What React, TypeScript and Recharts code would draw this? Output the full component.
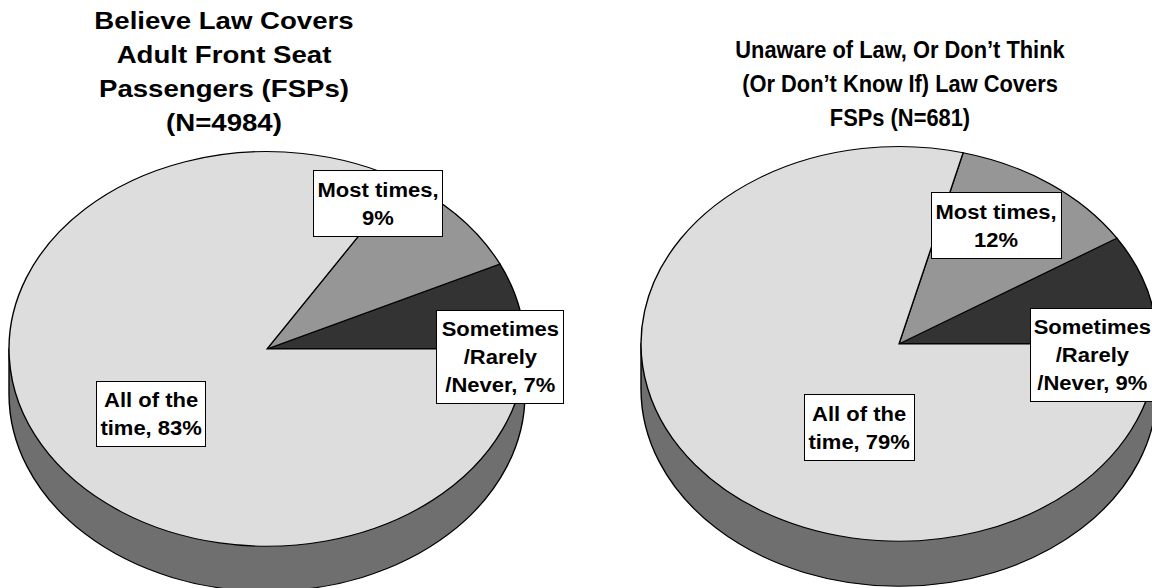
import React from 'react'
import { PieChart, Pie, Cell } from 'recharts'

// slice order follows Excel: starts at 3 o'clock and runs counter-clockwise
const SLICE_NAMES = ['Sometimes/Rarely/Never', 'Most times', 'All of the time']
const LEFT_VALUES = [7, 9, 83]
const RIGHT_VALUES = [9, 12, 79]

const LEFT_TITLE = ['Believe Law Covers', 'Adult Front Seat', 'Passengers (FSPs)', '(N=4984)']
const RIGHT_TITLE = ['Unaware of Law, Or Don\u2019t Think', '(Or Don\u2019t Know If) Law Covers', 'FSPs (N=681)']

// {v} is replaced by the slice value
const LABEL_LINES = [
  ['Sometimes', '/Rarely', '/Never, {v}%'],
  ['Most times,', '{v}%'],
  ['All of the', 'time, {v}%'],
]

const COLORS = ['#333333', '#969696', '#dddddd']
const SIDE_COLOR = '#6f6f6f'

// disc geometry (before the vertical squash)
const R = 258
const K = 0.765 // tilt: ry / rx
const DEPTH = 45 / K
const W = 2 * R + 4
const H = Math.ceil(2 * R + DEPTH + 6)
const PCX = W / 2
const PCY = R + 2

// label boxes, screen pixels
const LEFT_BOXES = [
  { x: 436, y: 310, w: 128, h: 94 },
  { x: 313, y: 170, w: 130, h: 67 },
  { x: 96, y: 381, w: 110, h: 66 },
]
const RIGHT_BOXES = [
  { x: 1030, y: 308, w: 124, h: 94 },
  { x: 931, y: 192, w: 131, h: 67 },
  { x: 804, y: 394, w: 111, h: 67 },
]

function SideWall() {
  const d = `M ${PCX - R} ${PCY} L ${PCX - R} ${PCY + DEPTH} A ${R} ${R} 0 0 0 ${PCX + R} ${PCY + DEPTH} L ${PCX + R} ${PCY} Z`
  return <path d={d} fill={SIDE_COLOR} stroke="#000" strokeWidth={1.4} />
}

function Pie3D({ values, cx, cy }: { values: number[]; cx: number; cy: number }) {
  const data = SLICE_NAMES.map((name, i) => ({ name, value: values[i] }))
  return (
    <div
      style={{
        position: 'absolute',
        left: cx - PCX,
        top: cy - PCY * K,
        width: W,
        height: H,
        transform: `scaleY(${K})`,
        transformOrigin: 'top left',
      }}
    >
      <PieChart width={W} height={H} margin={{ top: 0, right: 0, bottom: 0, left: 0 }}>
        <SideWall />
        <Pie
          data={data}
          dataKey="value"
          nameKey="name"
          cx={PCX}
          cy={PCY}
          outerRadius={R}
          startAngle={0}
          endAngle={360}
          stroke="#000"
          strokeWidth={1.4}
          isAnimationActive={false}
        >
          {data.map((entry, i) => (
            <Cell key={`cell-${i}`} fill={COLORS[i]} />
          ))}
        </Pie>
      </PieChart>
    </div>
  )
}

function Labels({ values, boxes }: { values: number[]; boxes: { x: number; y: number; w: number; h: number }[] }) {
  return (
    <>
      {boxes.map((b, i) => (
        <div
          key={i}
          style={{
            position: 'absolute',
            left: b.x,
            top: b.y,
            width: b.w,
            height: b.h,
            boxSizing: 'border-box',
            border: '1px solid #000',
            background: '#fff',
            display: 'flex',
            alignItems: 'center',
            justifyContent: 'center',
          }}
        >
          <div
            style={{
              fontSize: 20,
              lineHeight: '28px',
              fontWeight: 'bold',
              textAlign: 'center',
              whiteSpace: 'nowrap',
              transform: 'scaleX(1.1)',
            }}
          >
            {LABEL_LINES[i].map((line, j) => (
              <div key={j}>{line.replace('{v}', String(values[i]))}</div>
            ))}
          </div>
        </div>
      ))}
    </>
  )
}

function Title({ lines, cx, top, size, stretch }: { lines: string[]; cx: number; top: number; size: number; stretch: number }) {
  return (
    <div
      style={{
        position: 'absolute',
        left: cx - 250,
        top,
        width: 500,
        textAlign: 'center',
        fontSize: size,
        lineHeight: '34px',
        fontWeight: 'bold',
        transform: `scaleX(${stretch})`,
        whiteSpace: 'nowrap',
      }}
    >
      {lines.map((l, i) => (
        <div key={i}>{l}</div>
      ))}
    </div>
  )
}

export default function App() {
  return (
    <div
      style={{
        position: 'absolute',
        left: 0,
        top: 0,
        width: 1152,
        height: 588,
        overflow: 'hidden',
        background: '#fff',
        fontFamily: '"Liberation Sans", Arial, sans-serif',
        color: '#000',
      }}
    >
      <Pie3D values={LEFT_VALUES} cx={267} cy={348.5} />
      <Pie3D values={RIGHT_VALUES} cx={899} cy={344} />
      <Title lines={LEFT_TITLE} cx={224} top={4} size={24} stretch={1.15} />
      <Title lines={RIGHT_TITLE} cx={900} top={33} size={23} stretch={0.95} />
      <Labels values={LEFT_VALUES} boxes={LEFT_BOXES} />
      <Labels values={RIGHT_VALUES} boxes={RIGHT_BOXES} />
    </div>
  )
}
